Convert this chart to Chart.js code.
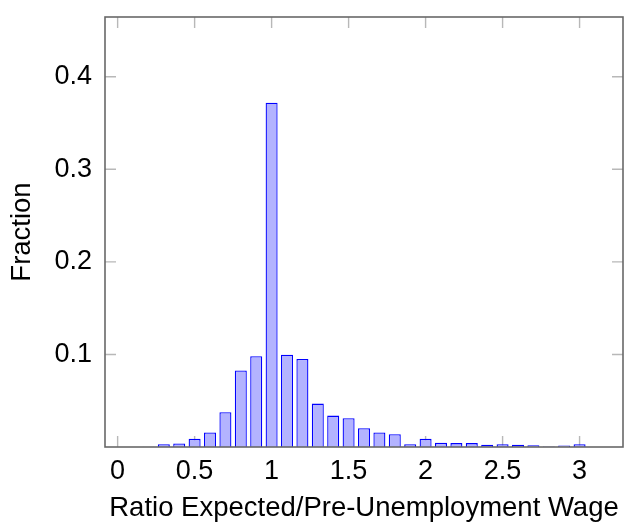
<!DOCTYPE html>
<html>
<head>
<meta charset="utf-8">
<script src="https://cdn.jsdelivr.net/npm/chart.js@4/dist/chart.umd.min.js"></script>
<style>
  html, body { margin: 0; padding: 0; background: #fff; }
  #wrap { width: 634px; height: 525px; }
</style>
</head>
<body>
<div id="wrap"><canvas id="hist"></canvas></div>
<script>
// histogram bins (ratio) and the share of respondents in each
const ratioBins = [0.2, 0.3, 0.4, 0.5, 0.6, 0.7, 0.8, 0.9, 1.0, 1.1, 1.2, 1.3, 1.4, 1.5,
                   1.6, 1.7, 1.8, 1.9, 2.0, 2.1, 2.2, 2.3, 2.4, 2.5, 2.6, 2.7, 2.8, 2.9, 3.0];
const fractions = [0.0004, 0.003, 0.0038, 0.0088, 0.0156, 0.0375, 0.0827, 0.098, 0.372, 0.0996,
                   0.095, 0.0469, 0.0339, 0.0311, 0.0203, 0.0156, 0.0139, 0.0031, 0.0088, 0.0045,
                   0.0042, 0.0042, 0.0024, 0.003, 0.0024, 0.002, 0.0006, 0.0015, 0.003];
const xTicks = [0, 0.5, 1, 1.5, 2, 2.5, 3];
const yTicks = [0.1, 0.2, 0.3, 0.4];

const FONT = "'Liberation Sans', Arial, Helvetica, sans-serif";

// pgfplots-style box: inward tick marks on all four sides, then the frame
const frameBox = {
  id: 'frameBox',
  beforeDatasetsDraw(chart) {
    const {ctx, chartArea: a, scales: {x, y}} = chart;
    const len = 11;
    ctx.save();
    ctx.strokeStyle = '#b8b8b8';
    ctx.lineWidth = 1.4;
    ctx.beginPath();
    xTicks.forEach(v => {
      const px = x.getPixelForValue(v);
      ctx.moveTo(px, a.bottom); ctx.lineTo(px, a.bottom - len);
      ctx.moveTo(px, a.top); ctx.lineTo(px, a.top + len);
    });
    yTicks.forEach(v => {
      const py = y.getPixelForValue(v);
      ctx.moveTo(a.left, py); ctx.lineTo(a.left + len, py);
      ctx.moveTo(a.right, py); ctx.lineTo(a.right - len, py);
    });
    ctx.stroke();
    ctx.restore();
  },
  afterDatasetsDraw(chart) {
    const {ctx, chartArea: a} = chart;
    ctx.save();
    ctx.strokeStyle = '#686868';
    ctx.lineWidth = 1.6;
    ctx.strokeRect(a.left, a.top, a.right - a.left, a.bottom - a.top);
    ctx.restore();
  }
};

new Chart(document.getElementById('hist'), {
  type: 'bar',
  data: {
    datasets: [{
      label: 'Fraction',
      data: ratioBins.map((r, i) => ({x: r, y: fractions[i]})),
      backgroundColor: 'rgb(179, 179, 255)',
      borderColor: '#0000ff',
      borderWidth: 1.3,
      categoryPercentage: 1,
      barPercentage: 0.78
    }]
  },
  options: {
    responsive: true,
    maintainAspectRatio: false,
    animation: false,
    layout: { padding: {left: 0, right: 11, top: 17, bottom: 0} },
    plugins: { legend: {display: false}, tooltip: {enabled: false} },
    scales: {
      x: {
        type: 'linear',
        offset: false,
        min: -0.082,
        max: 3.282,
        grid: {display: false, drawTicks: false},
        border: {display: false},
        afterBuildTicks: s => { s.ticks = xTicks.map(v => ({value: v})); },
        afterFit: s => { s.height = 78; s.paddingLeft = 0; s.paddingRight = 0; },
        ticks: {
          color: '#000',
          padding: 8,
          maxRotation: 0,
          autoSkip: false,
          font: {family: FONT, size: 27},
          callback: v => String(v)
        },
        title: {
          display: true,
          text: 'Ratio Expected/Pre-Unemployment Wage',
          color: '#000',
          padding: {top: 0, bottom: 2.5},
          font: {family: FONT, size: 27.5, lineHeight: 1}
        }
      },
      y: {
        min: 0,
        max: 0.4645,
        grid: {display: false, drawTicks: false},
        border: {display: false},
        afterBuildTicks: s => { s.ticks = yTicks.map(v => ({value: v})); },
        afterFit: s => { s.width = 105; s.paddingTop = 0; s.paddingBottom = 0; },
        ticks: {
          color: '#000',
          padding: 13,
          font: {family: FONT, size: 27},
          callback: v => String(v)
        },
        title: {
          display: true,
          text: 'Fraction',
          color: '#000',
          padding: {top: 9, bottom: 0},
          font: {family: FONT, size: 27.5, lineHeight: 1}
        }
      }
    }
  },
  plugins: [frameBox]
});
</script>
</body>
</html>
